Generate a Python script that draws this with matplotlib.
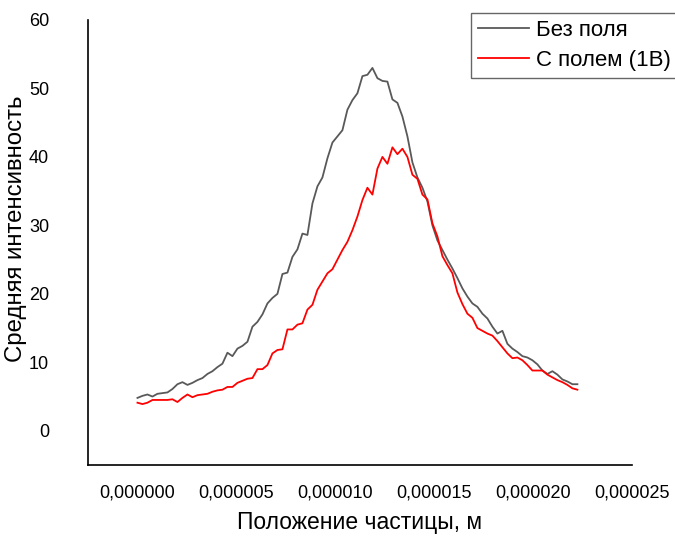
import numpy as np
import matplotlib
matplotlib.use("Agg")
import matplotlib.pyplot as plt
from matplotlib.ticker import FixedLocator, FuncFormatter

plt.rcParams['font.family'] = ['Liberation Sans', 'DejaVu Sans']

# Particle position samples (m)
n_points = 89
x_start = 0.0
x_end = 22.24e-6
position = np.linspace(x_start, x_end, n_points)

# Mean intensity without field
no_field = [
    4.8, 5.1, 5.3, 5.0, 5.4, 5.5, 5.6, 6.1, 6.8, 7.1,
    6.7, 7.0, 7.4, 7.7, 8.3, 8.7, 9.3, 9.8, 11.4, 10.9,
    12.0, 12.4, 13.0, 15.2, 15.9, 17.0, 18.6, 19.4, 20.0, 22.9,
    23.1, 25.4, 26.5, 28.8, 28.6, 33.2, 35.7, 37.0, 39.8, 42.1,
    43.0, 43.9, 46.9, 48.3, 49.3, 51.8, 52.0, 53.0, 51.5, 51.1,
    51.0, 48.4, 47.9, 45.9, 43.0, 39.2, 37.0, 35.5, 33.5, 30.0,
    27.8, 26.4, 25.0, 23.7, 22.3, 20.8, 19.6, 18.6, 18.1, 17.1,
    16.4, 15.2, 14.2, 14.6, 12.7, 12.0, 11.5, 10.9, 10.7, 10.3,
    9.7, 8.8, 8.3, 8.7, 8.2, 7.5, 7.2, 6.8, 6.8,
]

# Mean intensity with field (1 V)
with_field = [
    4.1, 3.9, 4.1, 4.5, 4.5, 4.5, 4.5, 4.6, 4.2, 4.8,
    5.3, 4.9, 5.2, 5.3, 5.4, 5.7, 5.9, 6.0, 6.4, 6.4,
    7.0, 7.3, 7.6, 7.7, 9.0, 9.0, 9.6, 11.3, 11.8, 11.9,
    14.8, 14.8, 15.5, 15.7, 17.7, 18.4, 20.6, 21.8, 23.0, 23.6,
    25.0, 26.4, 27.6, 29.3, 31.3, 33.7, 35.5, 34.5, 38.3, 40.0,
    39.0, 41.4, 40.4, 41.2, 40.0, 37.4, 36.8, 34.5, 33.8, 30.3,
    28.4, 25.5, 24.2, 23.0, 20.2, 18.5, 17.1, 16.5, 15.0, 14.6,
    14.2, 13.9, 13.1, 12.2, 11.3, 10.6, 10.7, 10.3, 9.6, 8.8,
    8.8, 8.8, 8.2, 7.8, 7.4, 7.1, 6.7, 6.2, 6.0,
]

x_ticks = [0.0, 5e-6, 10e-6, 15e-6, 20e-6, 25e-6]
y_ticks = [0, 10, 20, 30, 40, 50, 60]

fig = plt.figure(figsize=(6.75, 5.37), dpi=100)
ax = fig.add_axes([88 / 675, 72 / 537, 544 / 675, 445 / 537])

ax.plot(position, no_field, color='#595959', lw=1.3, label='Без поля')
ax.plot(position, with_field, color='#ff0000', lw=1.3, label='С полем (1В)')

ax.set_xlim(-2.5e-6, 25e-6)
ax.set_ylim(-5, 60)

ax.xaxis.set_major_locator(FixedLocator(x_ticks))
ax.yaxis.set_major_locator(FixedLocator(y_ticks))
ax.xaxis.set_major_formatter(FuncFormatter(lambda v, p: f"{v:.6f}".replace('.', ',')))
ax.yaxis.set_major_formatter(FuncFormatter(lambda v, p: f"{v:.0f}"))
ax.tick_params(axis='both', length=0, labelsize=13, colors='#000000')
ax.tick_params(axis='x', pad=14)
ax.tick_params(axis='y', pad=28)

for side in ('top', 'right'):
    ax.spines[side].set_visible(False)
for side in ('left', 'bottom'):
    ax.spines[side].set_linewidth(1.2)
    ax.spines[side].set_color('#000000')

ax.set_xlabel('Положение частицы, м', fontsize=16.5, labelpad=7)
ax.set_ylabel('Средняя интенсивность', fontsize=17.3)
ax.yaxis.set_label_coords(-0.113, 0.53)

leg = fig.legend(loc='upper left', bbox_to_anchor=(471 / 675, 1 - 13 / 537),
                 fontsize=16, frameon=True, fancybox=False, borderaxespad=0,
                 handlelength=2.3, handletextpad=0.33, borderpad=0.3,
                 labelspacing=0.42)
leg.get_frame().set_edgecolor('#404040')
leg.get_frame().set_linewidth(1.0)

fig.savefig('out.png', dpi=100)
